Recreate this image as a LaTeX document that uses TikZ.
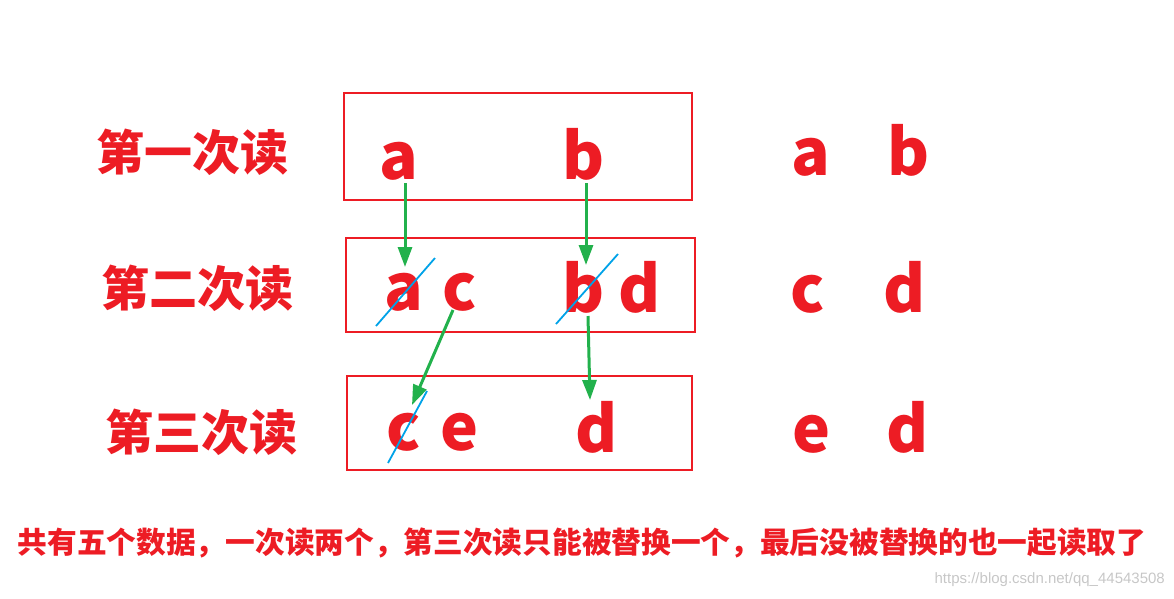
\documentclass[tikz,border=0pt]{standalone}
\usepackage{fontspec}
\setmainfont{Noto Sans CJK SC}
\newfontfamily\wmfont{Liberation Sans}
\usetikzlibrary{arrows.meta}
\definecolor{myred}{HTML}{ED1C24}
\definecolor{mygreen}{HTML}{22B14C}
\definecolor{myblue}{HTML}{00A2E8}
\tikzset{
  box/.style={draw=myred, line width=2pt},
  lbl/.style={text=myred, font=\fontsize{48}{48}\selectfont\bfseries, inner sep=0pt},
  let/.style={text=myred, font=\fontsize{64}{64}\selectfont\bfseries, inner sep=0pt, anchor=base},
  arr/.style={draw=mygreen, line width=3pt, -{Triangle[length=20pt,width=14pt]}},
  strike/.style={draw=myblue, line width=1.8pt},
  note/.style={text=myred, font=\fontsize{29.7}{30}\selectfont\bfseries, inner sep=0pt},
  wm/.style={text=black!22, font=\wmfont\fontsize{15}{15}\selectfont, inner sep=0pt}
}
\begin{document}
\begin{tikzpicture}[x=1pt,y=-1pt]
\useasboundingbox (0,0) rectangle (1174,598);
% boxes
\draw[box] (344,93) rectangle (692,200);
\draw[box] (346,238) rectangle (695,332);
\draw[box] (347,376) rectangle (692,470);
% labels
\node[lbl] (l1) at (192,152) {第一次读};
\node[lbl] (l2) at (197,288) {第二次读};
\node[lbl] (l3) at (201,432) {第三次读};
% row 1
\node[let] (a1) at (399,179) {a};
\node[let] (b1) at (584,179) {b};
\node[let] (ra) at (811,175) {a};
\node[let] (rb) at (909,175) {b};
% row 2
\node[let] (a2) at (404,310) {a};
\node[let] (c2) at (460,310) {c};
\node[let] (b2) at (584,312) {b};
\node[let] (d2) at (640,312) {d};
\node[let] (rc) at (808,312) {c};
\node[let] (rd) at (905,312) {d};
% row 3
\node[let] (c3) at (404,450) {c};
\node[let] (e3) at (460,450) {e};
\node[let] (d3) at (597,452) {d};
\node[let] (re) at (812,452) {e};
\node[let] (rd3) at (908,452) {d};
% strikes
\draw[strike] (376,326) -- (435,258);
\draw[strike] (556,324) -- (618,254);
\draw[strike] (388,463) -- (427,391);
% arrows
\draw[arr] ([xshift=6pt,yshift=-4pt]a1.base) -- ([xshift=1pt,yshift=43pt]a2.base);
\draw[arr] ([xshift=2pt,yshift=-4pt]b1.base) -- ([xshift=2pt,yshift=47pt]b2.base);
\draw[arr] ([xshift=-7pt,yshift=0pt]c2.base) -- ([xshift=8pt,yshift=45pt]c3.base);
\draw[arr] ([xshift=4pt,yshift=-4pt]b2.base) -- ([xshift=-7pt,yshift=52pt]d3.base);
% note
\node[note] (n) at (582,543) {共有五个数据，一次读两个，第三次读只能被替换一个，最后没被替换的也一起读取了};
\node[wm, anchor=east] (w) at (1165,580) {https://blog.csdn.net/qq\_44543508};
\end{tikzpicture}
\end{document}
